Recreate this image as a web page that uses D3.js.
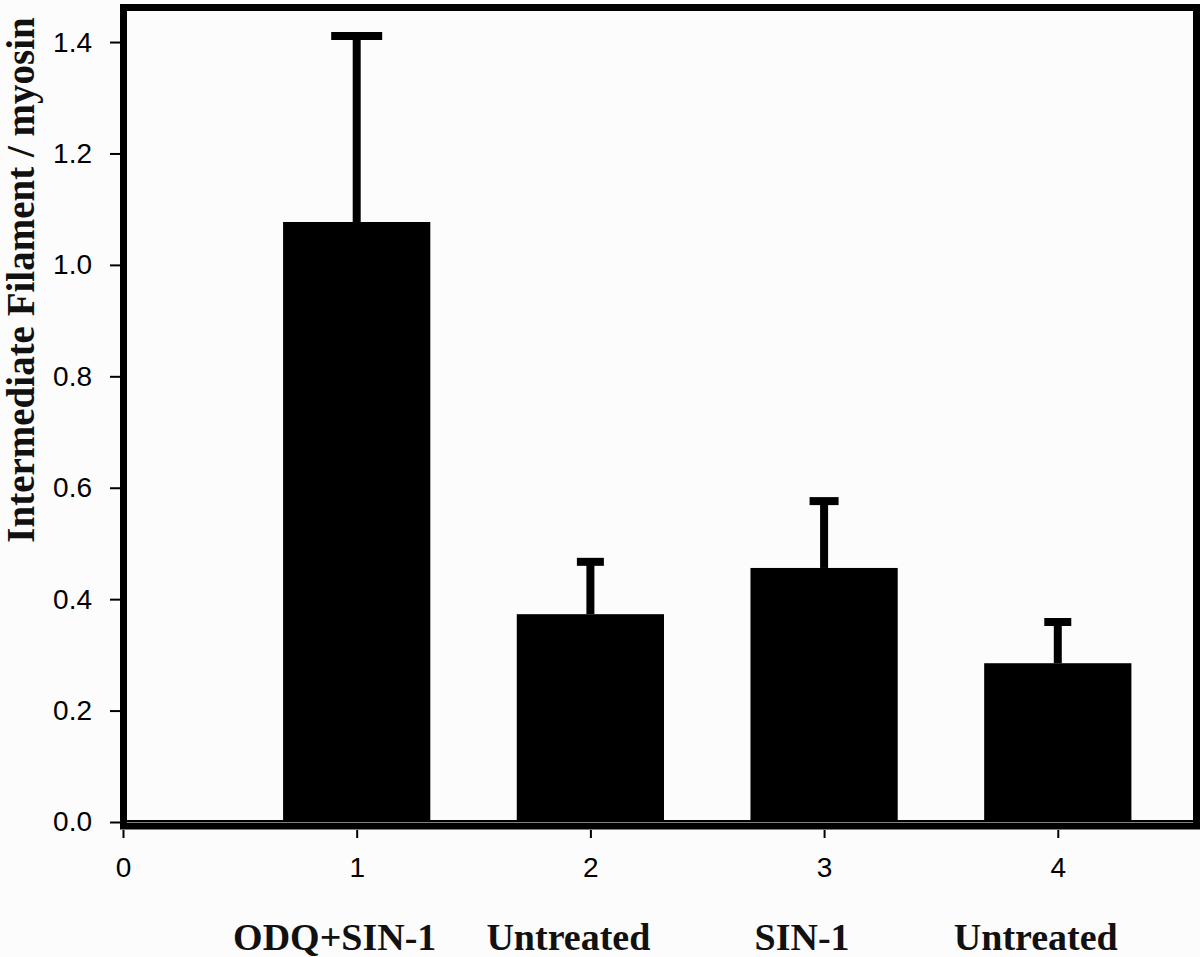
<!DOCTYPE html>
<html lang="en">
<head>
    <meta charset="UTF-8">
    <title>Intermediate Filament / myosin</title>
    <script src="https://d3js.org/d3.v7.min.js"></script>
    <style>
        body { margin: 0; background: #fcfcfc; }
        .tick text { font-family: "Liberation Sans", Arial, sans-serif; font-size: 28px; fill: #000; }
        .label { font-family: "Liberation Serif", "Times New Roman", serif; font-weight: bold; fill: #111; }
    </style>
</head>
<body>
<svg width="1200" height="957"></svg>

<script>
    // data
    const positions = [0, 1, 2, 3, 4];
    const means     = [0, 1.077, 0.373, 0.456, 0.285];
    const errors    = [0, 0.334, 0.094, 0.120, 0.074];
    const groups    = ["", "ODQ+SIN-1", "Untreated", "SIN-1", "Untreated"];
    const yTicks    = [0, 0.2, 0.4, 0.6, 0.8, 1.0, 1.2, 1.4];
    const xTicks    = [0, 1, 2, 3, 4];

    // error cap widths in px (first cap drawn wider in the original)
    const capWidths = [0, 51, 27, 29, 27];

    const svg = d3.select("svg");

    const x = d3.scaleLinear().domain([0, 4.6]).range([123, 1198]);
    const y = d3.scaleLinear().domain([0, 1.462]).range([822, 7.5]);
    const barW = x(0.63) - x(0);

    // bars
    svg.append("g")
        .selectAll("rect")
        .data(positions)
        .join("rect")
        .attr("x", d => x(d) - barW / 2)
        .attr("y", (d, i) => y(means[i]))
        .attr("width", barW)
        .attr("height", (d, i) => y(0) - y(means[i]))
        .attr("fill", "#000");

    // baseline at 0
    svg.append("line")
        .attr("x1", x(0)).attr("x2", x(4.6))
        .attr("y1", y(0) - 1).attr("y2", y(0) - 1)
        .attr("stroke", "#000").attr("stroke-width", 2);

    // error bars
    const eb = svg.append("g").attr("stroke", "#000").attr("stroke-width", 8);
    positions.forEach((p, i) => {
        if (errors[i] <= 0) return;
        eb.append("line")
            .attr("x1", x(p)).attr("x2", x(p))
            .attr("y1", y(means[i])).attr("y2", y(means[i] + errors[i]));
        eb.append("line")
            .attr("x1", x(p) - capWidths[i] / 2).attr("x2", x(p) + capWidths[i] / 2)
            .attr("y1", y(means[i] + errors[i])).attr("y2", y(means[i] + errors[i]));
    });

    // frame
    svg.append("rect")
        .attr("x", 123.5).attr("y", 7.5)
        .attr("width", 1196.5 - 123.5).attr("height", 826 - 7.5)
        .attr("fill", "none").attr("stroke", "#000").attr("stroke-width", 7);

    // y axis
    const yAxis = svg.append("g")
        .attr("transform", "translate(120,0)")
        .call(d3.axisLeft(y).tickValues(yTicks).tickFormat(d3.format(".1f"))
            .tickSize(10).tickPadding(18));
    yAxis.select(".domain").remove();
    yAxis.selectAll(".tick line").attr("stroke-width", 2);

    // x axis
    const xAxis = svg.append("g")
        .attr("transform", "translate(0,830)")
        .call(d3.axisBottom(x).tickValues(xTicks).tickFormat(d3.format("d"))
            .tickSize(8).tickPadding(19));
    xAxis.select(".domain").remove();
    xAxis.selectAll(".tick line").attr("stroke-width", 2);

    // group labels under the axis
    svg.append("g")
        .selectAll("text")
        .data(positions.filter((d, i) => groups[i] !== ""))
        .join("text")
        .attr("class", "label")
        .attr("x", d => x(d) - 22)
        .attr("y", 950)
        .attr("text-anchor", "middle")
        .attr("font-size", 38)
        .text(d => groups[d]);

    // y title
    svg.append("text")
        .attr("class", "label")
        .attr("transform", "translate(34,280) rotate(-90)")
        .attr("text-anchor", "middle")
        .attr("font-size", 39)
        .text("Intermediate Filament / myosin");
</script>
</body>
</html>
